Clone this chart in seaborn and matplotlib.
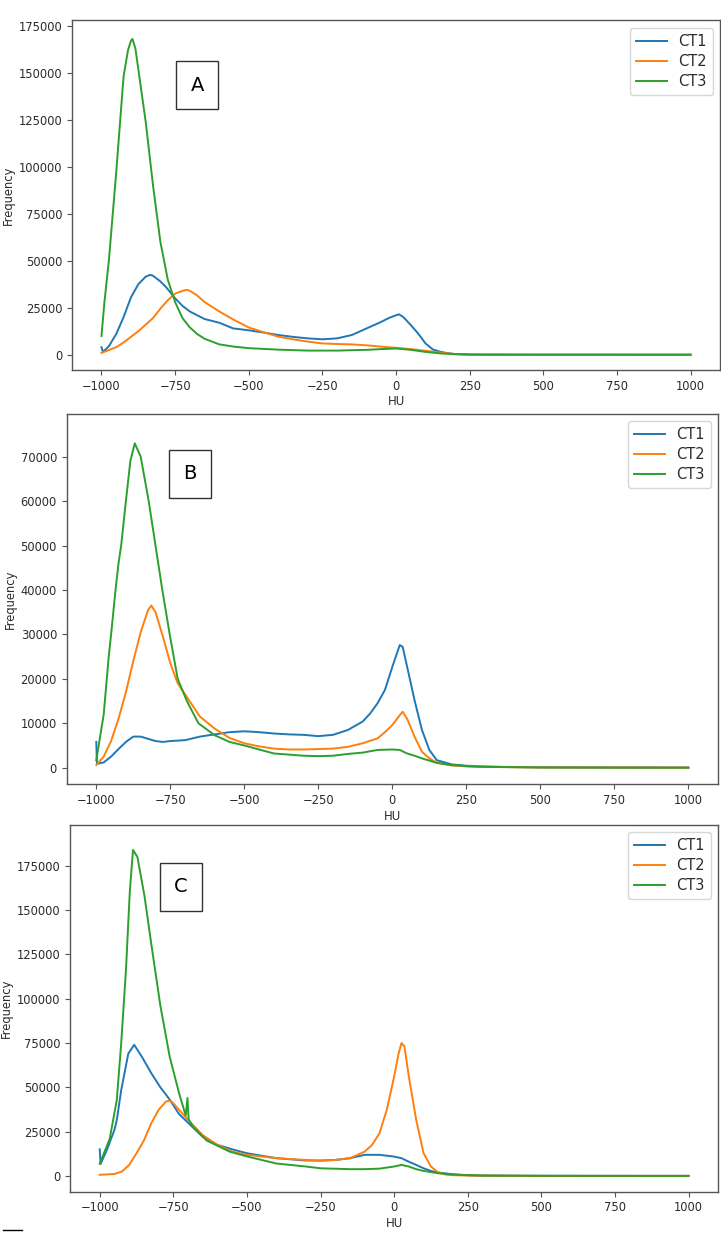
import matplotlib
matplotlib.use("Agg")
import matplotlib.pyplot as plt
from matplotlib.lines import Line2D
import seaborn as sns
import pandas as pd

series_names = ["CT1", "CT2", "CT3"]
panel_letters = ["A", "B", "C"]
x_ticks = [-1000, -750, -500, -250, 0, 250, 500, 750, 1000]

# ---------------- Panel A ----------------
hu_a_ct1 = [-1000, -995, -975, -950, -925, -900, -875, -850, -835, -825, -800, -781, -750, -725, -700,
            -650, -600, -553, -500, -450, -400, -350, -300, -250, -200, -150, -100, -50, -25, 0, 10,
            25, 50, 75, 100, 125, 150, 175, 200, 250, 300, 400, 500, 750, 1000]
freq_a_ct1 = [4000, 1500, 4500, 11000, 20000, 30500, 37500, 41500, 42500, 42000, 39000, 36000, 30000,
              26000, 23000, 19000, 17000, 14000, 13000, 11800, 10500, 9500, 8700, 8200, 8700, 10500,
              14000, 17500, 19500, 21000, 21500, 20000, 15800, 11300, 6000, 2800, 1600, 800, 400, 100,
              50, 20, 10, 0, 0]
hu_a_ct2 = [-1000, -975, -950, -925, -900, -875, -850, -825, -800, -775, -750, -725, -710, -700, -675,
            -650, -600, -550, -500, -450, -400, -350, -300, -250, -200, -150, -100, -50, 0, 50, 100,
            150, 200, 250, 300, 500, 1000]
freq_a_ct2 = [1000, 2500, 4000, 6500, 9500, 12500, 16000, 19500, 24500, 29000, 32500, 34000, 34500,
              34000, 31500, 28000, 23000, 18500, 14500, 12000, 9600, 8200, 7000, 6000, 5700, 5500,
              5000, 4300, 3700, 3000, 2100, 1200, 300, 100, 50, 10, 0]
hu_a_ct3 = [-1000, -990, -975, -950, -925, -910, -900, -895, -885, -875, -850, -825, -800, -775, -750,
            -725, -700, -675, -650, -600, -550, -500, -400, -300, -200, -100, -50, 0, 50, 100, 150,
            200, 250, 300, 500, 1000]
freq_a_ct3 = [10000, 28000, 50000, 97000, 148000, 162000, 167000, 168000, 163000, 152000, 124000,
              90000, 60000, 40000, 28000, 19500, 14500, 11000, 8500, 5500, 4300, 3500, 2700, 2200,
              2200, 2600, 3000, 3300, 2600, 1500, 700, 300, 100, 50, 10, 0]

# ---------------- Panel B ----------------
hu_b_ct1 = [-1000, -998, -995, -975, -950, -925, -900, -875, -850, -825, -800, -775, -750, -700, -650,
            -600, -550, -500, -450, -400, -350, -300, -250, -200, -150, -100, -75, -50, -25, 0, 25,
            35, 50, 75, 100, 125, 150, 200, 250, 300, 400, 500, 750, 1000]
freq_b_ct1 = [5800, 1000, 900, 1200, 2500, 4200, 5800, 7000, 7000, 6500, 6000, 5800, 6000, 6200,
              7000, 7500, 8000, 8200, 8000, 7700, 7500, 7400, 7100, 7400, 8500, 10400, 12200, 14500,
              17500, 22700, 27600, 27200, 22700, 15200, 8500, 4000, 1700, 750, 450, 300, 150, 100,
              50, 30]
hu_b_ct2 = [-1000, -975, -950, -925, -900, -875, -850, -825, -814, -800, -775, -750, -725, -700, -650,
            -600, -550, -500, -450, -400, -350, -300, -250, -200, -150, -100, -50, -25, 0, 25, 35,
            50, 75, 100, 125, 150, 200, 250, 300, 500, 1000]
freq_b_ct2 = [600, 2500, 6000, 11000, 17000, 24000, 30500, 35500, 36500, 35000, 29500, 23500, 19000,
              16500, 11500, 8800, 6700, 5500, 4800, 4300, 4100, 4100, 4200, 4300, 4700, 5500, 6600,
              8000, 9600, 11800, 12600, 11000, 7000, 3600, 2100, 1100, 500, 300, 200, 50, 20]
hu_b_ct3 = [-1000, -975, -958, -950, -935, -925, -916, -900, -885, -870, -850, -823, -800, -777, -752,
            -725, -694, -655, -600, -550, -500, -400, -300, -250, -200, -150, -100, -50, 0, 25, 50,
            75, 100, 150, 200, 250, 300, 500, 750, 1000]
freq_b_ct3 = [1700, 12000, 25000, 30000, 40000, 46000, 50000, 60000, 69000, 73000, 70000, 60000,
              50000, 40000, 30000, 20000, 15000, 10000, 7300, 5800, 5000, 3200, 2700, 2600, 2700,
              3100, 3400, 4000, 4100, 4000, 3200, 2700, 2100, 1100, 600, 350, 200, 50, 20, 10]

# ---------------- Panel C ----------------
hu_c_ct1 = [-1000, -997, -975, -966, -950, -942, -927, -903, -883, -856, -825, -794, -762, -731, -700,
            -650, -600, -550, -500, -400, -300, -250, -200, -150, -100, -50, 0, 25, 50, 75, 100, 125,
            150, 200, 250, 300, 500, 750, 1000]
freq_c_ct1 = [15000, 6800, 15000, 19000, 26000, 31600, 48500, 69000, 74000, 67000, 58000, 50000,
              43000, 35000, 30000, 22000, 17500, 15000, 12800, 10000, 8700, 8700, 9000, 10000, 11900,
              11900, 10900, 10000, 8000, 6200, 4300, 2800, 1900, 900, 400, 200, 50, 20, 10]
hu_c_ct2 = [-1000, -950, -925, -900, -875, -850, -825, -800, -775, -760, -750, -725, -700, -650, -600,
            -550, -500, -400, -300, -250, -200, -150, -100, -75, -50, -25, 0, 15, 25, 35, 50, 75,
            100, 125, 150, 175, 200, 250, 300, 500, 1000]
freq_c_ct2 = [600, 1100, 2400, 6200, 12800, 20000, 29700, 37300, 42000, 42500, 41000, 36300, 31600,
              23000, 17500, 13700, 11900, 10000, 9000, 8500, 9000, 10000, 13700, 17500, 24000, 37300,
              56000, 69000, 75000, 73000, 56000, 31600, 12800, 5300, 1900, 750, 400, 200, 100, 20, 10]
hu_c_ct3 = [-1000, -966, -942, -927, -911, -898, -887, -872, -848, -825, -794, -762, -731, -708, -702,
            -698, -684, -637, -559, -500, -400, -300, -250, -150, -100, -50, 0, 25, 50, 75, 100, 150,
            200, 250, 300, 500, 1000]
freq_c_ct3 = [6800, 21000, 43000, 75000, 116000, 160000, 184000, 180000, 158000, 131000, 96000,
              67000, 47000, 34000, 44000, 32000, 28000, 20000, 13700, 11000, 7000, 5300, 4300, 3800,
              3800, 4100, 5300, 6200, 5300, 3800, 2800, 1500, 750, 400, 200, 50, 10]

y_ticks_a = [0, 25000, 50000, 75000, 100000, 125000, 150000, 175000]
y_ticks_b = [0, 10000, 20000, 30000, 40000, 50000, 60000, 70000]
y_ticks_c = [0, 25000, 50000, 75000, 100000, 125000, 150000, 175000]

panels = [
    dict(letter="A", data=[(hu_a_ct1, freq_a_ct1), (hu_a_ct2, freq_a_ct2), (hu_a_ct3, freq_a_ct3)],
         yticks=y_ticks_a, ylim=(-8100, 177800), rect=[0.0999, 0.7002, 0.8988, 0.2832],
         box=(0.193, 0.815)),
    dict(letter="B", data=[(hu_b_ct1, freq_b_ct1), (hu_b_ct2, freq_b_ct2), (hu_b_ct3, freq_b_ct3)],
         yticks=y_ticks_b, ylim=(-3740, 79600), rect=[0.0925, 0.3644, 0.9033, 0.3001],
         box=(0.189, 0.839)),
    dict(letter="C", data=[(hu_c_ct1, freq_c_ct1), (hu_c_ct2, freq_c_ct2), (hu_c_ct3, freq_c_ct3)],
         yticks=y_ticks_c, ylim=(-8900, 198100), rect=[0.0975, 0.0343, 0.8983, 0.2972],
         box=(0.171, 0.831)),
]

palette = sns.color_palette("tab10", 3)
TEXT = "#2b2b2b"
SPINE = "#555555"

fig = plt.figure(figsize=(7.21, 12.34), dpi=100)

for p in panels:
    ax = fig.add_axes(p["rect"])
    frames = []
    for name, (hx, fy) in zip(series_names, p["data"]):
        frames.append(pd.DataFrame({"HU": hx, "Frequency": fy, "series": name}))
    df = pd.concat(frames, ignore_index=True)
    sns.lineplot(data=df, x="HU", y="Frequency", hue="series", palette=palette,
                 hue_order=series_names, linewidth=1.4, legend=False, ax=ax,
                 estimator=None, sort=True)
    ax.set_xlim(-1100, 1100)
    ax.set_ylim(*p["ylim"])
    ax.set_xticks(x_ticks)
    ax.set_yticks(p["yticks"])
    ax.tick_params(labelsize=8.3, colors=TEXT, color=SPINE, length=3.5, width=0.8)
    for s in ax.spines.values():
        s.set_color(SPINE)
        s.set_linewidth(1.0)
    ax.set_xlabel("HU", fontsize=8.5, color=TEXT, labelpad=2)
    ax.set_ylabel("Frequency", fontsize=8.3, color=TEXT, labelpad=3)
    handles = [Line2D([0], [0], color=c, lw=1.4) for c in palette]
    leg = ax.legend(handles, series_names, loc="upper right", fontsize=10.5,
                    handlelength=2.1, borderaxespad=0.5, labelspacing=0.35)
    for t in leg.get_texts():
        t.set_color(TEXT)
    ax.text(p["box"][0], p["box"][1], p["letter"], transform=ax.transAxes,
            ha="center", va="center", fontsize=14, color="black",
            bbox=dict(boxstyle="square,pad=0.75", fc="white", ec="#333333", lw=1.0))

fig.add_artist(Line2D([0.004, 0.031], [0.0035, 0.0035], transform=fig.transFigure,
                      color="black", lw=1.0))

fig.savefig("out.png", dpi=100)
